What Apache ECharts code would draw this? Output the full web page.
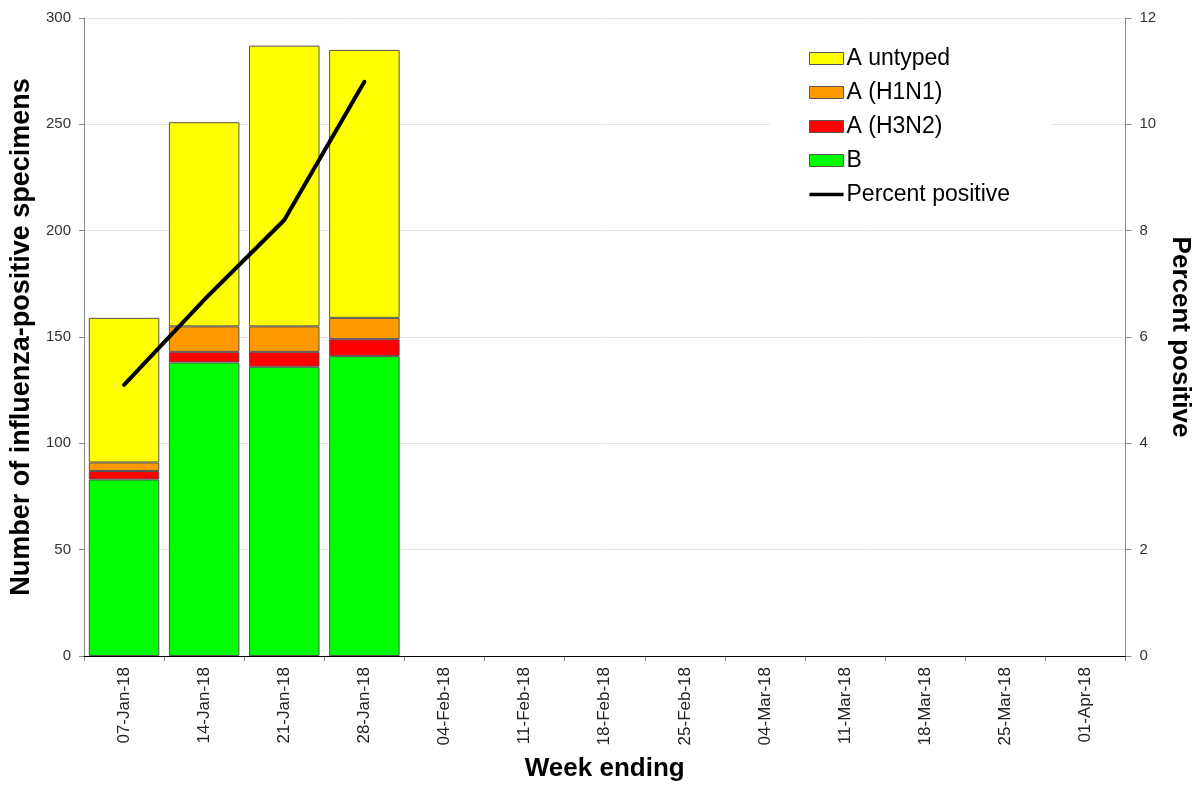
<!DOCTYPE html>
<html>
<head>
<meta charset="utf-8">
<script src="https://cdn.jsdelivr.net/npm/echarts@6/dist/echarts.min.js"></script>
<style>
html,body{margin:0;padding:0;background:#fff;}
#chart{width:1201px;height:787px;}
</style>
</head>
<body>
<div id="chart"></div>
<script>
var weeks = ['07-Jan-18','14-Jan-18','21-Jan-18','28-Jan-18','04-Feb-18','11-Feb-18','18-Feb-18','25-Feb-18','04-Mar-18','11-Mar-18','18-Mar-18','25-Mar-18','01-Apr-18'];
var fluB      = [83, 138, 136, 141, null, null, null, null, null, null, null, null, null];
var fluH3N2   = [4, 5, 7, 8, null, null, null, null, null, null, null, null, null];
var fluH1N1   = [4, 12, 12, 10, null, null, null, null, null, null, null, null, null];
var fluUntyped= [68, 96, 132, 126, null, null, null, null, null, null, null, null, null];
var pctPositive = [5.1, 6.7, 8.2, 10.8, null, null, null, null, null, null, null, null, null];

var chart = echarts.init(document.getElementById('chart'));
var FONT = '"Liberation Sans", Arial, sans-serif';
var barBorder = {borderColor: '#555', borderWidth: 1};

function barSeries(name, data, color) {
  return {
    name: name, type: 'bar', stack: 'flu', data: data, barWidth: '88%',
    itemStyle: Object.assign({color: color}, barBorder),
    emphasis: {disabled: true}
  };
}
var boxStyle = {borderColor: '#555', borderWidth: 1};

chart.setOption({
  animation: false,
  backgroundColor: '#fff',
  textStyle: {fontFamily: FONT},
  grid: {left: 84, right: 70, top: 18, bottom: 125, containLabel: false},
  legend: {
    orient: 'vertical',
    left: 770, top: 36,
    padding: [11, 42, 11, 39],
    backgroundColor: '#fff',
    itemWidth: 34, itemHeight: 12, itemGap: 11,
    textStyle: {fontSize: 23, color: '#000', fontFamily: FONT, padding: [0,0,0,-2]},
    data: [
      {name: 'A untyped', icon: 'rect', itemStyle: boxStyle},
      {name: 'A (H1N1)', icon: 'rect', itemStyle: boxStyle},
      {name: 'A (H3N2)', icon: 'rect', itemStyle: boxStyle},
      {name: 'B', icon: 'rect', itemStyle: boxStyle},
      {name: 'Percent positive',
       icon: 'path://M0 4.2h34v3.6H0z M0 0h0.01v0.01H0z M33.99 11.99h0.01v0.01h-0.01z',
       itemStyle: {color: '#000', borderWidth: 0}}
    ]
  },
  xAxis: [{
    type: 'category', data: weeks, boundaryGap: true, position: 'bottom',
    name: 'Week ending', nameLocation: 'middle', nameGap: 100,
    nameTextStyle: {fontSize: 26, fontWeight: 'bold', color: '#000', fontFamily: FONT},
    axisLine: {lineStyle: {color: '#8c8c8c', width: 1}},
    axisTick: {show: true, length: 5, lineStyle: {color: '#8c8c8c'}},
    axisLabel: {rotate: 90, interval: 0, fontSize: 17, color: '#222', margin: 11, fontFamily: FONT},
    splitLine: {show: false}
  }, {
    type: 'category', data: weeks, position: 'top', z: 10,
    axisLine: {show: true, lineStyle: {color: '#000', width: 1}},
    axisTick: {show: false}, axisLabel: {show: false}, splitLine: {show: false}
  }],
  yAxis: [{
    type: 'value', min: 0, max: 300, interval: 50, position: 'left',
    name: 'Number of influenza-positive specimens', nameLocation: 'middle', nameGap: 46,
    nameTextStyle: {fontSize: 27, fontWeight: 'bold', color: '#000', fontFamily: FONT},
    axisLine: {show: true, lineStyle: {color: '#8c8c8c'}},
    axisTick: {show: true, length: 5, lineStyle: {color: '#8c8c8c'}},
    axisLabel: {fontSize: 15, color: '#333', margin: 13, fontFamily: FONT},
    splitLine: {show: true, lineStyle: {color: '#e4e4e4', width: 1}}
  }, {
    type: 'value', min: 0, max: 12, interval: 2, position: 'right',
    name: 'Percent positive', nameLocation: 'middle', nameGap: 41, nameRotate: -90,
    nameTextStyle: {fontSize: 26, fontWeight: 'bold', color: '#000', fontFamily: FONT},
    axisLine: {show: true, lineStyle: {color: '#8c8c8c'}},
    axisTick: {show: true, length: 6, lineStyle: {color: '#8c8c8c'}},
    axisLabel: {fontSize: 15, color: '#333', margin: 14, fontFamily: FONT},
    splitLine: {show: false}
  }],
  series: [
    barSeries('B', fluB, '#00ff00'),
    barSeries('A (H3N2)', fluH3N2, '#ff0000'),
    barSeries('A (H1N1)', fluH1N1, '#ff9900'),
    barSeries('A untyped', fluUntyped, '#ffff00'),
    {
      name: 'Percent positive', type: 'line', yAxisIndex: 1, data: pctPositive,
      symbol: 'none', connectNulls: false,
      lineStyle: {color: '#000', width: 4, cap: 'round', join: 'round'},
      itemStyle: {color: '#000'},
      emphasis: {disabled: true}, z: 5
    }
  ]
});
</script>
</body>
</html>
